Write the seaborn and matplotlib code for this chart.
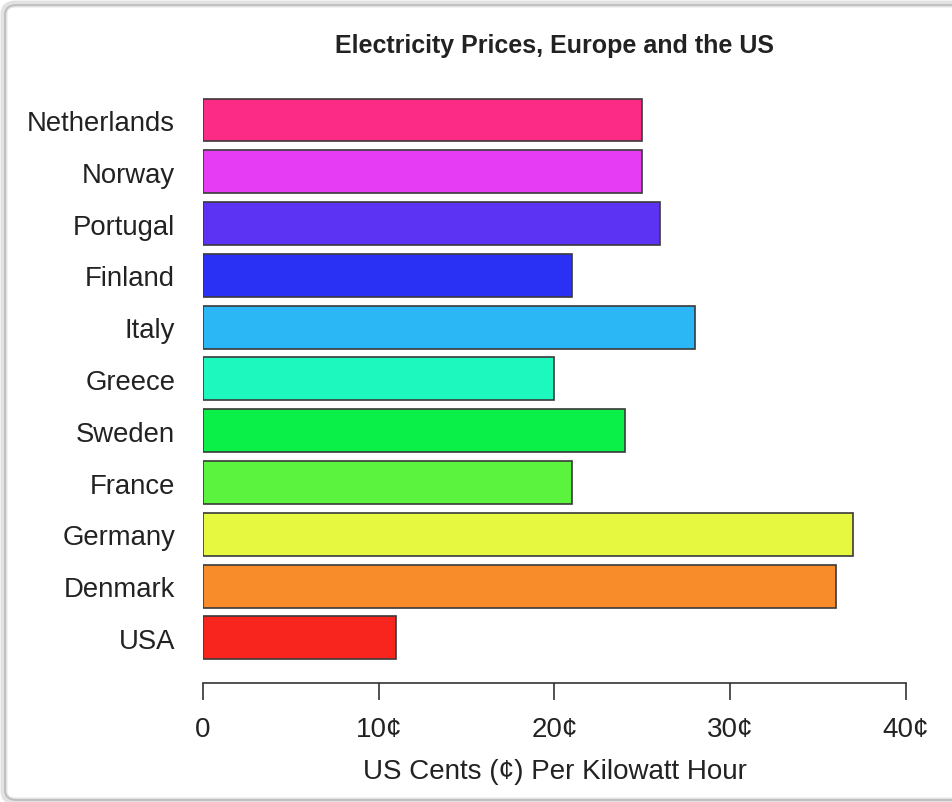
import matplotlib
matplotlib.use("Agg")
import matplotlib.pyplot as plt
from matplotlib.patches import FancyBboxPatch
import seaborn as sns
import pandas as pd

countries = ["Netherlands", "Norway", "Portugal", "Finland", "Italy", "Greece",
             "Sweden", "France", "Germany", "Denmark", "USA"]
prices = [25, 25, 26, 21, 28, 20, 24, 21, 37, 36, 11]
bar_colors = ["#FC2C86", "#E63CF4", "#5C33F2", "#2A30F4", "#2BB6F6", "#1CF8BE",
              "#0AF048", "#5CF33E", "#E6F840", "#F98C2A", "#F8241E"]
tick_values = [0, 10, 20, 30, 40]
tick_labels = ["0", "10¢", "20¢", "30¢", "40¢"]
title = "Electricity Prices, Europe and the US"
xlabel = "US Cents (¢) Per Kilowatt Hour"

df = pd.DataFrame({"country": countries, "price": prices})

sns.set_theme(style="white")
plt.rcParams["font.family"] = ["Liberation Sans", "DejaVu Sans"]

W, H = 953, 803
fig = plt.figure(figsize=(W / 100, H / 100), dpi=100)
fig.patch.set_facecolor("white")

# axes placement in pixels
left_px, right_px, top_px, bottom_px = 203, 906, 95, 684
ax = fig.add_axes([left_px / W, 1 - bottom_px / H,
                   (right_px - left_px) / W, (bottom_px - top_px) / H])

sns.barplot(data=df, x="price", y="country", hue="country", palette=bar_colors,
            legend=False, orient="h", width=0.83, edgecolor="#3a3a3a",
            linewidth=1.2, saturation=1, ax=ax)

ax.set_xlim(0, 40)
ax.set_ylim(10.869, -0.502)
ax.set_xticks(tick_values)
ax.set_xticklabels(tick_labels)
for s in ["top", "right", "left"]:
    ax.spines[s].set_visible(False)
ax.spines["bottom"].set_color("#333333")
ax.spines["bottom"].set_linewidth(1.2)
ax.tick_params(axis="x", which="both", bottom=True, direction="out",
               length=12.5, width=1.2, color="#333333", pad=11.5,
               labelsize=20, labelcolor="#222222")
ax.tick_params(axis="y", length=0, pad=20, labelsize=19.8, labelcolor="#222222")
ax.set_ylabel("")
ax.set_xlabel(xlabel, fontsize=20, color="#222222", labelpad=11.5)
ax.set_title(title, fontsize=18, fontweight="bold", color="#222222", pad=30.3)
ax.set_facecolor("white")

# frame around the picture
shadow = FancyBboxPatch((4 / W, 1 / H), (W + 20) / W, (H - 6) / H,
                        boxstyle="round,pad=0,rounding_size=0.012",
                        transform=fig.transFigure, facecolor="none",
                        edgecolor="#e2e2e2", linewidth=5, zorder=0)
frame = FancyBboxPatch((5 / W, 2 / H), (W + 20) / W, (H - 8) / H,
                       boxstyle="round,pad=0,rounding_size=0.012",
                       transform=fig.transFigure, facecolor="none",
                       edgecolor="#bdbdbd", linewidth=1.3, zorder=1)
fig.patches.extend([shadow, frame])

fig.savefig("out.png", dpi=100, facecolor="white")
